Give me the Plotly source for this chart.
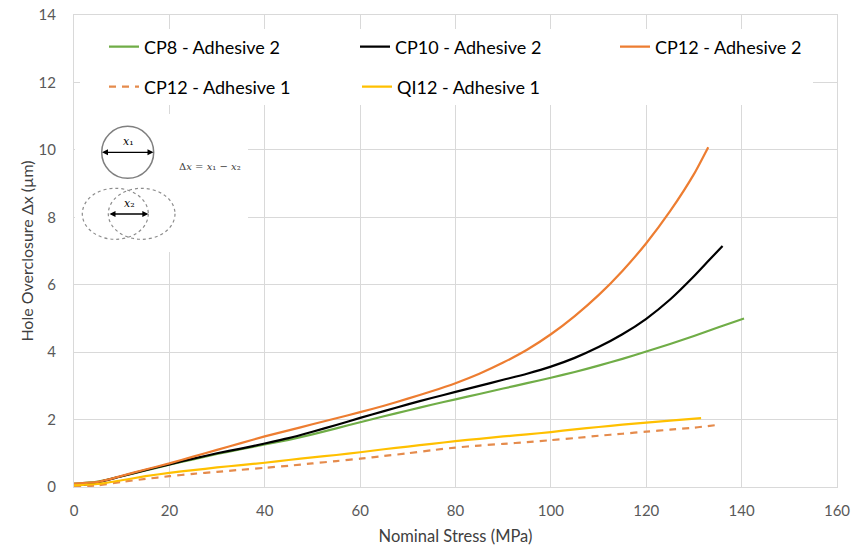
import plotly.graph_objects as go

# Nominal stress (MPa) and hole overclosure (µm) for each specimen
cp8_a2_x = [0, 5, 10, 15, 20, 25, 30, 35, 40, 45, 50, 55, 60, 65, 70, 75, 80, 85, 90, 95, 100,
            105, 110, 115, 120, 125, 130, 135, 140.5]
cp8_a2_y = [0.10, 0.16, 0.32, 0.49, 0.66, 0.82, 0.98, 1.12, 1.26, 1.40, 1.56, 1.74, 1.92, 2.10,
            2.27, 2.44, 2.60, 2.76, 2.92, 3.08, 3.24, 3.41, 3.60, 3.80, 4.02, 4.24, 4.48, 4.73, 5.00]

cp10_a2_x = [2, 5, 10, 15, 20, 25, 30, 35, 40, 45, 50, 55, 60, 65, 70, 75, 80, 85, 90, 95, 100,
             105, 110, 115, 120, 125, 130, 133, 136]
cp10_a2_y = [0.06, 0.14, 0.32, 0.50, 0.67, 0.84, 1.00, 1.14, 1.29, 1.45, 1.64, 1.84, 2.05, 2.25,
             2.45, 2.64, 2.82, 3.00, 3.18, 3.36, 3.57, 3.83, 4.15, 4.53, 4.99, 5.56, 6.25, 6.70, 7.15]

cp12_a2_x = [0, 5, 10, 15, 20, 25, 30, 35, 40, 45, 50, 55, 60, 65, 70, 75, 80, 85, 90, 95, 100,
             105, 110, 115, 120, 125, 130, 133]
cp12_a2_y = [0.10, 0.15, 0.33, 0.52, 0.70, 0.90, 1.10, 1.30, 1.50, 1.68, 1.86, 2.04, 2.22, 2.41,
             2.62, 2.84, 3.08, 3.36, 3.69, 4.07, 4.53, 5.07, 5.69, 6.41, 7.23, 8.18, 9.28, 10.08]

cp12_a1_x = [0, 5, 10, 15, 20, 25, 30, 35, 40, 45, 50, 55, 60, 65, 70, 75, 80, 85, 90, 95, 100,
             105, 110, 115, 120, 125, 130, 135.5]
cp12_a1_y = [0.02, 0.05, 0.15, 0.24, 0.32, 0.39, 0.45, 0.51, 0.57, 0.63, 0.70, 0.77, 0.84, 0.92,
             1.00, 1.09, 1.17, 1.23, 1.28, 1.33, 1.39, 1.45, 1.52, 1.58, 1.64, 1.70, 1.76, 1.85]

qi12_a1_x = [0, 5, 10, 15, 20, 25, 30, 35, 40, 45, 50, 55, 60, 65, 70, 75, 80, 85, 90, 95, 100,
             105, 110, 115, 120, 125, 131.5]
qi12_a1_y = [0.05, 0.09, 0.20, 0.32, 0.42, 0.50, 0.58, 0.65, 0.72, 0.80, 0.88, 0.95, 1.03, 1.12,
             1.20, 1.28, 1.36, 1.43, 1.50, 1.56, 1.63, 1.71, 1.78, 1.85, 1.91, 1.97, 2.04]

x_ticks = [0, 20, 40, 60, 80, 100, 120, 140, 160]
y_ticks = [0, 2, 4, 6, 8, 10, 12, 14]

FONT = "Lato"
TICK_COLOR = "#595959"
GRID = "#D9D9D9"

# plot-area geometry in pixels, used to place the sketch inset
L, R, T, B = 74, 14, 15, 60
W, H = 851, 547
PW, PH = W - L - R, H - T - B


def px_x(p):
    return (p - L) / PW


def px_y(p):
    return (H - B - p) / PH


fig = go.Figure()

series = [
    ("CP8 - Adhesive 2", cp8_a2_x, cp8_a2_y, "#70AD47", "solid", "legend", 206),
    ("CP10 - Adhesive 2", cp10_a2_x, cp10_a2_y, "#000000", "solid", "legend", 215),
    ("CP12 - Adhesive 2", cp12_a2_x, cp12_a2_y, "#ED7D31", "solid", "legend", 150),
    ("CP12 - Adhesive 1", cp12_a1_x, cp12_a1_y, "#E58B4C", "7px,6px", "legend2", 208),
    ("QI12 - Adhesive 1", qi12_a1_x, qi12_a1_y, "#FFC000", "solid", "legend2", 150),
]
for name, xs, ys, color, dash, leg, lw in series:
    fig.add_trace(go.Scatter(
        x=xs, y=ys, name=name, mode="lines",
        line=dict(color=color, width=2.2, dash=dash, shape="spline", smoothing=0.6),
        legend=leg, legendwidth=lw,
    ))

shapes = []
# white panels behind the legend and the inset sketch
shapes.append(dict(type="rect", xref="paper", yref="paper", layer="above",
                   x0=px_x(80), x1=px_x(813), y0=px_y(105), y1=px_y(29),
                   fillcolor="white", line=dict(width=0)))
shapes.append(dict(type="rect", xref="paper", yref="paper", layer="above",
                   x0=px_x(75), x1=px_x(248), y0=px_y(252), y1=px_y(114),
                   fillcolor="white", line=dict(width=0)))
# hole before loading
shapes.append(dict(type="circle", xref="paper", yref="paper", layer="above",
                   x0=px_x(101.7), x1=px_x(153.7), y0=px_y(178.3), y1=px_y(126.3),
                   line=dict(color="#7F7F7F", width=1.5)))
# hole after loading (overlapping dotted outlines)
shapes.append(dict(type="circle", xref="paper", yref="paper", layer="above",
                   x0=px_x(82.3), x1=px_x(148.3), y0=px_y(239.3), y1=px_y(188.3),
                   line=dict(color="#8C8C8C", width=1.2, dash="dot")))
shapes.append(dict(type="circle", xref="paper", yref="paper", layer="above",
                   x0=px_x(108.3), x1=px_x(175), y0=px_y(239.3), y1=px_y(188.3),
                   line=dict(color="#8C8C8C", width=1.2, dash="dot")))

# double-headed diameter arrows: shaft plus a filled head at each end
HEAD_L, HEAD_H = 6, 3
for xa, xb, yy in [(102, 153.5, 152.3), (109.5, 148.3, 214)]:
    shapes.append(dict(type="line", xref="paper", yref="paper", layer="above",
                       x0=px_x(xa + 2), x1=px_x(xb - 2), y0=px_y(yy), y1=px_y(yy),
                       line=dict(color="#000000", width=1.3)))
    for tip, back in [(xa, xa + HEAD_L), (xb, xb - HEAD_L)]:
        path = (f"M {px_x(tip)},{px_y(yy)} L {px_x(back)},{px_y(yy - HEAD_H)} "
                f"L {px_x(back)},{px_y(yy + HEAD_H)} Z")
        shapes.append(dict(type="path", xref="paper", yref="paper", layer="above",
                           path=path, fillcolor="#000000", line=dict(width=0)))

annotations = [
    dict(xref="paper", yref="paper", x=px_x(121), y=px_y(150), xanchor="left", yanchor="bottom",
         text="<i>x</i>₁", showarrow=False,
         font=dict(family="DejaVu Serif", size=11, color="#000000")),
    dict(xref="paper", yref="paper", x=px_x(122), y=px_y(212), xanchor="left", yanchor="bottom",
         text="<i>x</i>₂", showarrow=False,
         font=dict(family="DejaVu Serif", size=11, color="#000000")),
    dict(xref="paper", yref="paper", x=px_x(177), y=px_y(158.5), xanchor="left",
         text="Δ<i>x</i> = <i>x</i>₁ − <i>x</i>₂", showarrow=False,
         font=dict(family="DejaVu Serif", size=10, color="#404040")),
]

legend_common = dict(orientation="h", xanchor="left", yanchor="middle",
                     bgcolor="rgba(0,0,0,0)", borderwidth=0,
                     font=dict(family=FONT, size=18, color="#000000"),
                     x=px_x(104), xref="paper", yref="paper")

fig.update_layout(
    width=W, height=H,
    margin=dict(l=L, r=R, t=T, b=B),
    paper_bgcolor="white", plot_bgcolor="white",
    font=dict(family=FONT, color=TICK_COLOR),
    showlegend=True,
    legend=dict(**legend_common, y=px_y(47)),
    legend2=dict(**legend_common, y=px_y(87)),
    shapes=shapes,
    annotations=annotations,
    xaxis=dict(range=[0, 160], tickvals=x_ticks, ticktext=[str(v) for v in x_ticks],
               automargin=False,
               showgrid=True, gridcolor=GRID, gridwidth=1, zeroline=False,
               showline=True, linecolor=GRID, linewidth=1, mirror=True,
               ticks="", ticklabelstandoff=10,
               tickfont=dict(family=FONT, size=15, color=TICK_COLOR),
               title=dict(text="Nominal Stress (MPa)", standoff=12,
                          font=dict(family=FONT, size=16.5, color="#404040"))),
    yaxis=dict(range=[0, 14], tickvals=y_ticks, ticktext=[str(v) for v in y_ticks],
               automargin=False,
               showgrid=True, gridcolor=GRID, gridwidth=1, zeroline=False,
               showline=True, linecolor=GRID, linewidth=1, mirror=True,
               ticks="", ticklabelstandoff=14,
               tickfont=dict(family=FONT, size=15, color=TICK_COLOR),
               title=dict(text="Hole Overclosure Δx (µm)", standoff=0,
                          font=dict(family=FONT, size=16, color="#404040"))),
)

fig.write_html("out.html")
